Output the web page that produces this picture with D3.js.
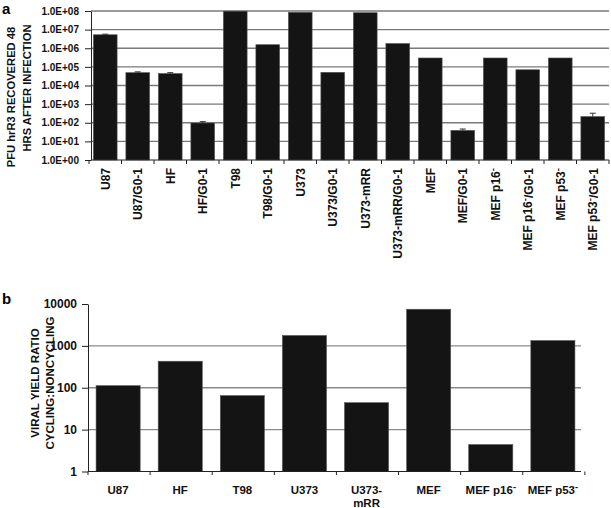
<!DOCTYPE html>
<html><head><meta charset="utf-8">
<script src="https://cdn.jsdelivr.net/npm/d3@7"></script>
<style>body{margin:0;background:#fff}svg{display:block;font-family:Arial,"Liberation Sans",sans-serif}</style>
</head><body><svg id="c" width="611" height="508"></svg>
<script>
// Panel a data
const catsA = ["U87","U87/G0-1","HF","HF/G0-1","T98","T98/G0-1","U373","U373/G0-1","U373-mRR","U373-mRR/G0-1","MEF","MEF/G0-1","MEF p16|","MEF p16|/G0-1","MEF p53|","MEF p53|/G0-1"];
const valsA = [5.3e6,4.9e4,4.4e4,97,9.8e7,1.55e6,8.5e7,5.1e4,8.1e7,1.8e6,3.0e5,39,3.0e5,7.0e4,3.0e5,215];
const errA  = [4e5,5e3,5e3,18,0,0,0,0,0,0,0,7,0,0,0,110];
const ticksA = ["1.0E+00","1.0E+01","1.0E+02","1.0E+03","1.0E+04","1.0E+05","1.0E+06","1.0E+07","1.0E+08"];
// Panel b data
const catsB = ["U87","HF","T98","U373","U373-\nmRR","MEF","MEF p16|","MEF p53|"];
const valsB = [112,430,65,1770,44,7500,4.4,1340];
const ticksB = ["1","10","100","1000","10000"];

const svg = d3.select("#c");
const barCol = "#141414";

function addLabel(sel, s){
  // '|' marks a superscript minus
  const parts = s.split("|");
  parts.forEach((p,i)=>{
    if(i>0) sel.append("tspan").attr("dy","-0.4em").attr("font-size","0.8em").text("-");
    const t = sel.append("tspan").text(p);
    if(i>0) t.attr("dy","0.4em");
  });
}

// ---------- Panel a ----------
{
  const x = d3.scaleBand().domain(catsA).range([89,609]).paddingInner(0.27).paddingOuter(0.135);
  const y = d3.scaleLog().domain([1,1e8]).range([160,11]);
  const g = svg.append("g");
  const tv = ticksA.map(t=>+t);
  g.selectAll("line.grid").data(tv.slice(1)).join("line")
    .attr("x1",91).attr("x2",609).attr("y1",d=>y(d)).attr("y2",d=>y(d))
    .attr("stroke","#7a7a7a").attr("stroke-width",1.3);
  g.selectAll("rect").data(valsA).join("rect")
    .attr("x",(d,i)=>x(catsA[i])).attr("width",x.bandwidth())
    .attr("y",d=>y(d)).attr("height",d=>160-y(d))
    .attr("fill",barCol).attr("stroke","#555").attr("stroke-width",0.6);
  const eb = g.selectAll("g.eb").data(valsA.map((v,i)=>({v,e:errA[i],c:catsA[i]})).filter(d=>d.e>0)).join("g");
  eb.append("line").attr("x1",d=>x(d.c)+x.bandwidth()/2).attr("x2",d=>x(d.c)+x.bandwidth()/2)
    .attr("y1",d=>y(d.v)).attr("y2",d=>y(d.v+d.e)).attr("stroke","#333").attr("stroke-width",1);
  eb.append("line").attr("x1",d=>x(d.c)+x.bandwidth()/2-3).attr("x2",d=>x(d.c)+x.bandwidth()/2+3)
    .attr("y1",d=>y(d.v+d.e)).attr("y2",d=>y(d.v+d.e)).attr("stroke","#333").attr("stroke-width",1);
  const ay = d3.axisLeft(y).tickValues(tv).tickFormat((d,i)=>ticksA[i]).tickSize(6).tickSizeOuter(0);
  const ga = g.append("g").attr("transform","translate(91,0)").call(ay);
  ga.select(".domain").attr("stroke","#222");
  ga.selectAll(".tick line").attr("stroke","#222");
  ga.selectAll(".tick text").attr("font-size",10).attr("font-weight","bold").attr("fill","#111").attr("x",-12);
  // x axis baseline and ticks between bars
  g.append("line").attr("x1",91).attr("x2",609).attr("y1",160).attr("y2",160).attr("stroke","#222");
  const step = x.step();
  g.selectAll("line.xt").data(d3.range(catsA.length+1)).join("line")
    .attr("x1",i=>89+i*step).attr("x2",i=>89+i*step).attr("y1",160).attr("y2",164).attr("stroke","#222");
  catsA.forEach((c,i)=>{
    const cx = x(c)+x.bandwidth()/2;
    const t = g.append("text").attr("transform",`translate(${cx+4.5},168) rotate(-90)`)
      .attr("text-anchor","end").attr("font-size",12).attr("font-weight","bold").attr("fill","#111");
    addLabel(t,c);
  });
  g.append("text").attr("transform","translate(15,97) rotate(-90)").attr("text-anchor","middle")
    .attr("font-size",11.2).attr("font-weight","bold").attr("fill","#111").text("PFU hrR3 RECOVERED 48");
  g.append("text").attr("transform","translate(31,88) rotate(-90)").attr("text-anchor","middle")
    .attr("font-size",11.2).attr("font-weight","bold").attr("fill","#111").text("HRS AFTER INFECTION");
  g.append("text").attr("x",2).attr("y",14).attr("font-size",15).attr("font-weight","bold").text("a");
}

// ---------- Panel b ----------
{
  const x = d3.scaleBand().domain(catsB).range([88,583]).paddingInner(0.29).paddingOuter(0.13);
  const y = d3.scaleLog().domain([1,1e4]).range([471.5,304]);
  const g = svg.append("g");
  const tv = ticksB.map(t=>+t);
  g.selectAll("line.grid").data(tv.slice(1,4)).join("line")
    .attr("x1",88).attr("x2",581).attr("y1",d=>y(d)).attr("y2",d=>y(d))
    .attr("stroke","#8a8a8a").attr("stroke-width",1.3);
  g.selectAll("rect").data(valsB).join("rect")
    .attr("x",(d,i)=>x(catsB[i])).attr("width",x.bandwidth())
    .attr("y",d=>y(d)).attr("height",d=>471.5-y(d))
    .attr("fill",barCol).attr("stroke","#555").attr("stroke-width",0.6);
  const ay = d3.axisLeft(y).tickValues(tv).tickFormat((d,i)=>ticksB[i]).tickSize(6).tickSizeOuter(0);
  const ga = g.append("g").attr("transform","translate(88,0)").call(ay);
  ga.select(".domain").attr("stroke","#222");
  ga.selectAll(".tick line").attr("stroke","#222");
  ga.selectAll(".tick text").attr("font-size",12).attr("font-weight","bold").attr("fill","#111").attr("x",-11);
  g.append("line").attr("x1",88).attr("x2",581).attr("y1",471.5).attr("y2",471.5).attr("stroke","#222");
  const step = x.step();
  g.selectAll("line.xt").data(d3.range(catsB.length+1)).join("line")
    .attr("x1",i=>88+i*step).attr("x2",i=>88+i*step).attr("y1",471.5).attr("y2",475).attr("stroke","#222");
  catsB.forEach((c,i)=>{
    const cx = x(c)+x.bandwidth()/2;
    const lines = c.split("\n");
    const t = g.append("text").attr("text-anchor","middle").attr("font-size",11.5).attr("font-weight","bold").attr("fill","#111");
    lines.forEach((ln,j)=>{
      const ts = t.append("tspan").attr("x",cx).attr("y",494+j*12.5);
      addLabel(ts,ln);
    });
  });
  const yl = g.append("text").attr("transform","translate(0,383) rotate(-90)").attr("text-anchor","middle")
    .attr("font-size",11.5).attr("font-weight","bold").attr("fill","#111");
  yl.append("tspan").attr("x",0).attr("y",39).text("VIRAL YIELD RATIO");
  yl.append("tspan").attr("x",0).attr("y",54).text("CYCLING:NONCYCLING");
  g.append("text").attr("x",2).attr("y",304).attr("font-size",15).attr("font-weight","bold").text("b");
}
</script></body></html>
